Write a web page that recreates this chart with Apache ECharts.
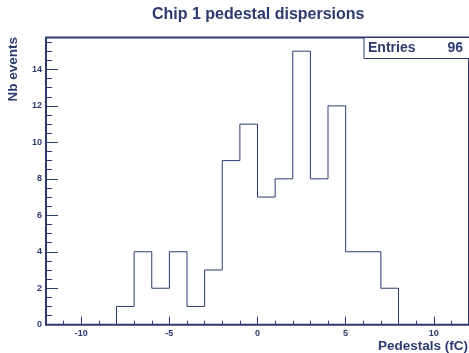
<!DOCTYPE html>
<html>
<head>
<meta charset="utf-8">
<script src="https://cdn.jsdelivr.net/npm/echarts@6/dist/echarts.min.js"></script>
<style>
html,body{margin:0;padding:0;background:#fff;}
#chart{width:469px;height:353px;}
</style>
</head>
<body>
<div id="chart"></div>
<script>
// ---- data ----
const binEdges = [-8,-7,-6,-5,-4,-3,-2,-1,0,1,2,3,4,5,6,7,8];
const counts   = [1,4,2,4,1,3,9,11,7,8,15,8,12,4,4,2];
const xMajorTicks = [-10,-5,0,5,10];
const xMinorTicks = [-11,-9,-8,-7,-6,-4,-3,-2,-1,1,2,3,4,6,7,8,9,11];
const yMajorTicks = [0,2,4,6,8,10,12,14];
const yMinorTicks = [0.5,1,1.5,2.5,3,3.5,4.5,5,5.5,6.5,7,7.5,8.5,9,9.5,10.5,11,11.5,12.5,13,13.5,14.5,15,15.5];
const titleText = 'Chip 1 pedestal dispersions';
const xTitle = 'Pedestals (fC)';
const yTitle = 'Nb events';
const entries = 96;

// ---- build ----
const C = '#2c3a70';
const FONT = '"Liberation Sans", Arial, Helvetica, sans-serif';
const histData = [[binEdges[0], 0]];
for (let i = 0; i < counts.length; i++) histData.push([binEdges[i], counts[i]]);
histData.push([binEdges[binEdges.length - 1], 0]);

const chart = echarts.init(document.getElementById('chart'), null, {renderer: 'canvas'});
const G = {left: 46, right: -2, top: 37.5, bottom: 28.3};
const noLine = {show: false, onZero: false};

chart.setOption({
  animation: false,
  backgroundColor: '#ffffff',
  title: {
    text: titleText, left: 147, top: 2,
    textStyle: {fontFamily: FONT, fontWeight: 'bold', fontSize: 16, color: C}
  },
  grid: Object.assign({show: true, borderColor: C, borderWidth: 2, backgroundColor: '#fff'}, G),
  xAxis: [{
    type: 'value', min: -12, max: 12, position: 'bottom',
    axisLine: noLine, splitLine: {show: false},
    axisTick: {show: true, inside: true, length: 8, customValues: xMajorTicks, lineStyle: {color: C, width: 1}},
    axisLabel: {show: true, customValues: xMajorTicks, margin: 4, fontFamily: FONT, fontWeight: 'bold', fontSize: 9, color: C}
  }, {
    type: 'value', min: -12, max: 12, position: 'bottom',
    axisLine: noLine, splitLine: {show: false},
    axisTick: {show: true, inside: true, length: 4, customValues: xMinorTicks, lineStyle: {color: C, width: 1}},
    axisLabel: {show: false}
  }],
  yAxis: [{
    type: 'value', min: 0, max: 15.75, position: 'left',
    axisLine: noLine, splitLine: {show: false},
    axisTick: {show: true, inside: true, length: 12, customValues: yMajorTicks, lineStyle: {color: C, width: 1}},
    axisLabel: {show: true, customValues: yMajorTicks, margin: 4, fontFamily: FONT, fontWeight: 'bold', fontSize: 9, color: C}
  }, {
    type: 'value', min: 0, max: 15.75, position: 'left',
    axisLine: noLine, splitLine: {show: false},
    axisTick: {show: true, inside: true, length: 6, customValues: yMinorTicks, lineStyle: {color: C, width: 1}},
    axisLabel: {show: false}
  }],
  series: [{
    type: 'line', step: 'end', data: histData, symbol: 'none',
    lineStyle: {color: C, width: 1}, z: 3
  }],
  graphic: [
    {type: 'text', x: 13, y: 37, rotation: Math.PI / 2,
     style: {text: yTitle, fill: C, font: 'bold 13.5px ' + FONT, textAlign: 'right', textVerticalAlign: 'middle'}},
    {type: 'text', x: 468, y: 346,
     style: {text: xTitle, fill: C, font: 'bold 13.5px ' + FONT, textAlign: 'right', textVerticalAlign: 'middle'}},
    {type: 'rect', x: 364, y: 37.5, z: 10,
     shape: {x: 0, y: 0, width: 110, height: 21},
     style: {fill: '#fff', stroke: C, lineWidth: 1}},
    {type: 'text', x: 368, y: 48.5, z: 11,
     style: {text: 'Entries', fill: C, font: 'bold 14px ' + FONT, textAlign: 'left', textVerticalAlign: 'middle'}},
    {type: 'text', x: 463, y: 48.5, z: 11,
     style: {text: String(entries), fill: C, font: 'bold 14px ' + FONT, textAlign: 'right', textVerticalAlign: 'middle'}}
  ]
});
</script>
</body>
</html>
